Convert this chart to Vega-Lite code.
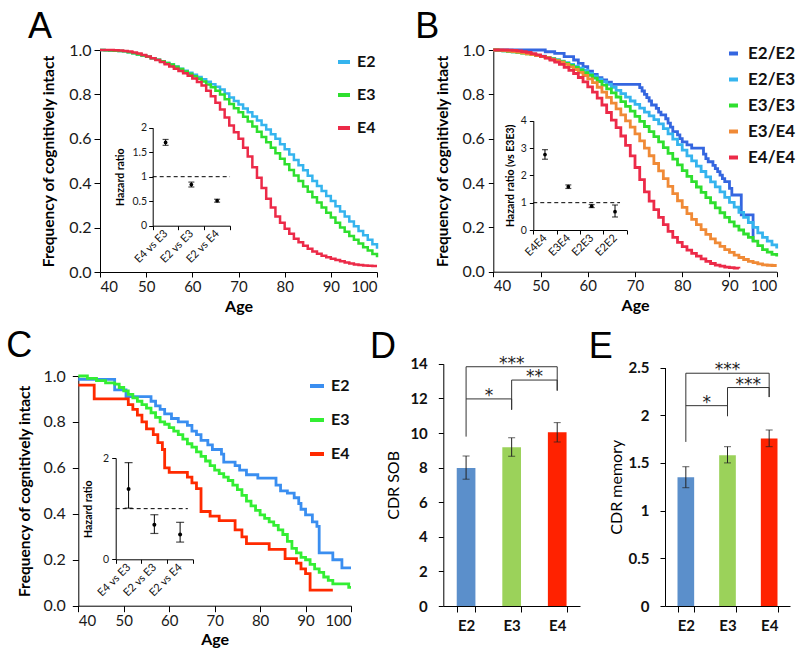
{
"$schema": "https://vega.github.io/schema/vega-lite/v6.json",
"width": 800, "height": 656,
"autosize": {"type": "none"},
"padding": 0,
"background": "white",
"config": {
  "view": {"stroke": null},
  "font": "Lato",
  "axis": {"grid": false, "domainColor": "#000", "tickColor": "#000", "labelColor": "#1a1a1a", "titleColor": "#000", "labelFont": "Lato", "titleFont": "Lato"},
  "text": {"font": "Lato"}
},
"datasets": {
"survA": [
{"age":40,"s":1.0,"g":"E2"},{"age":41,"s":0.999,"g":"E2"},{"age":42,"s":0.998,"g":"E2"},{"age":43,"s":0.997,"g":"E2"},{"age":44,"s":0.996,"g":"E2"},{"age":45,"s":0.994,"g":"E2"},{"age":46,"s":0.99,"g":"E2"},{"age":47,"s":0.985,"g":"E2"},{"age":48,"s":0.98,"g":"E2"},{"age":49,"s":0.975,"g":"E2"},
{"age":50,"s":0.97,"g":"E2"},{"age":51,"s":0.963,"g":"E2"},{"age":52,"s":0.956,"g":"E2"},{"age":53,"s":0.949,"g":"E2"},{"age":54,"s":0.942,"g":"E2"},{"age":55,"s":0.935,"g":"E2"},{"age":56,"s":0.926,"g":"E2"},{"age":57,"s":0.916,"g":"E2"},{"age":58,"s":0.907,"g":"E2"},{"age":59,"s":0.897,"g":"E2"},
{"age":60,"s":0.888,"g":"E2"},{"age":61,"s":0.878,"g":"E2"},{"age":62,"s":0.868,"g":"E2"},{"age":63,"s":0.857,"g":"E2"},{"age":64,"s":0.846,"g":"E2"},{"age":65,"s":0.834,"g":"E2"},{"age":66,"s":0.822,"g":"E2"},{"age":67,"s":0.804,"g":"E2"},{"age":68,"s":0.786,"g":"E2"},{"age":69,"s":0.77,"g":"E2"},
{"age":70,"s":0.755,"g":"E2"},{"age":71,"s":0.737,"g":"E2"},{"age":72,"s":0.72,"g":"E2"},{"age":73,"s":0.701,"g":"E2"},{"age":74,"s":0.682,"g":"E2"},{"age":75,"s":0.662,"g":"E2"},{"age":76,"s":0.642,"g":"E2"},{"age":77,"s":0.621,"g":"E2"},{"age":78,"s":0.6,"g":"E2"},{"age":79,"s":0.576,"g":"E2"},
{"age":80,"s":0.553,"g":"E2"},{"age":81,"s":0.529,"g":"E2"},{"age":82,"s":0.505,"g":"E2"},{"age":83,"s":0.481,"g":"E2"},{"age":84,"s":0.458,"g":"E2"},{"age":85,"s":0.434,"g":"E2"},{"age":86,"s":0.41,"g":"E2"},{"age":87,"s":0.387,"g":"E2"},{"age":88,"s":0.365,"g":"E2"},{"age":89,"s":0.342,"g":"E2"},
{"age":90,"s":0.32,"g":"E2"},{"age":91,"s":0.296,"g":"E2"},{"age":92,"s":0.272,"g":"E2"},{"age":93,"s":0.25,"g":"E2"},{"age":94,"s":0.228,"g":"E2"},{"age":95,"s":0.206,"g":"E2"},{"age":96,"s":0.185,"g":"E2"},{"age":97,"s":0.165,"g":"E2"},{"age":98,"s":0.145,"g":"E2"},{"age":99,"s":0.125,"g":"E2"},{"age":100,"s":0.105,"g":"E2"},
{"age":40,"s":1.0,"g":"E3"},{"age":41,"s":0.999,"g":"E3"},{"age":42,"s":0.998,"g":"E3"},{"age":43,"s":0.997,"g":"E3"},{"age":44,"s":0.996,"g":"E3"},{"age":45,"s":0.994,"g":"E3"},{"age":46,"s":0.99,"g":"E3"},{"age":47,"s":0.985,"g":"E3"},{"age":48,"s":0.98,"g":"E3"},{"age":49,"s":0.975,"g":"E3"},
{"age":50,"s":0.97,"g":"E3"},{"age":51,"s":0.963,"g":"E3"},{"age":52,"s":0.956,"g":"E3"},{"age":53,"s":0.949,"g":"E3"},{"age":54,"s":0.942,"g":"E3"},{"age":55,"s":0.935,"g":"E3"},{"age":56,"s":0.925,"g":"E3"},{"age":57,"s":0.914,"g":"E3"},{"age":58,"s":0.903,"g":"E3"},{"age":59,"s":0.893,"g":"E3"},
{"age":60,"s":0.882,"g":"E3"},{"age":61,"s":0.87,"g":"E3"},{"age":62,"s":0.858,"g":"E3"},{"age":63,"s":0.845,"g":"E3"},{"age":64,"s":0.832,"g":"E3"},{"age":65,"s":0.816,"g":"E3"},{"age":66,"s":0.8,"g":"E3"},{"age":67,"s":0.778,"g":"E3"},{"age":68,"s":0.757,"g":"E3"},{"age":69,"s":0.738,"g":"E3"},
{"age":70,"s":0.72,"g":"E3"},{"age":71,"s":0.699,"g":"E3"},{"age":72,"s":0.678,"g":"E3"},{"age":73,"s":0.655,"g":"E3"},{"age":74,"s":0.632,"g":"E3"},{"age":75,"s":0.608,"g":"E3"},{"age":76,"s":0.585,"g":"E3"},{"age":77,"s":0.56,"g":"E3"},{"age":78,"s":0.535,"g":"E3"},{"age":79,"s":0.51,"g":"E3"},
{"age":80,"s":0.485,"g":"E3"},{"age":81,"s":0.46,"g":"E3"},{"age":82,"s":0.435,"g":"E3"},{"age":83,"s":0.41,"g":"E3"},{"age":84,"s":0.385,"g":"E3"},{"age":85,"s":0.361,"g":"E3"},{"age":86,"s":0.337,"g":"E3"},{"age":87,"s":0.313,"g":"E3"},{"age":88,"s":0.29,"g":"E3"},{"age":89,"s":0.267,"g":"E3"},
{"age":90,"s":0.245,"g":"E3"},{"age":91,"s":0.222,"g":"E3"},{"age":92,"s":0.2,"g":"E3"},{"age":93,"s":0.181,"g":"E3"},{"age":94,"s":0.162,"g":"E3"},{"age":95,"s":0.145,"g":"E3"},{"age":96,"s":0.128,"g":"E3"},{"age":97,"s":0.112,"g":"E3"},{"age":98,"s":0.097,"g":"E3"},{"age":99,"s":0.081,"g":"E3"},{"age":100,"s":0.066,"g":"E3"},
{"age":40,"s":1.0,"g":"E4"},{"age":41,"s":1.0,"g":"E4"},{"age":42,"s":1.0,"g":"E4"},{"age":43,"s":0.999,"g":"E4"},{"age":44,"s":0.998,"g":"E4"},{"age":45,"s":0.996,"g":"E4"},{"age":46,"s":0.993,"g":"E4"},{"age":47,"s":0.989,"g":"E4"},{"age":48,"s":0.984,"g":"E4"},{"age":49,"s":0.978,"g":"E4"},
{"age":50,"s":0.971,"g":"E4"},{"age":51,"s":0.963,"g":"E4"},{"age":52,"s":0.955,"g":"E4"},{"age":53,"s":0.946,"g":"E4"},{"age":54,"s":0.936,"g":"E4"},{"age":55,"s":0.926,"g":"E4"},{"age":56,"s":0.915,"g":"E4"},{"age":57,"s":0.905,"g":"E4"},{"age":58,"s":0.895,"g":"E4"},{"age":59,"s":0.884,"g":"E4"},
{"age":60,"s":0.872,"g":"E4"},{"age":61,"s":0.856,"g":"E4"},{"age":62,"s":0.84,"g":"E4"},{"age":63,"s":0.816,"g":"E4"},{"age":64,"s":0.792,"g":"E4"},{"age":65,"s":0.762,"g":"E4"},{"age":66,"s":0.732,"g":"E4"},{"age":67,"s":0.696,"g":"E4"},{"age":68,"s":0.66,"g":"E4"},{"age":69,"s":0.63,"g":"E4"},
{"age":70,"s":0.6,"g":"E4"},{"age":71,"s":0.56,"g":"E4"},{"age":72,"s":0.52,"g":"E4"},{"age":73,"s":0.472,"g":"E4"},{"age":74,"s":0.425,"g":"E4"},{"age":75,"s":0.378,"g":"E4"},{"age":76,"s":0.33,"g":"E4"},{"age":77,"s":0.29,"g":"E4"},{"age":78,"s":0.25,"g":"E4"},{"age":79,"s":0.222,"g":"E4"},
{"age":80,"s":0.195,"g":"E4"},{"age":81,"s":0.172,"g":"E4"},{"age":82,"s":0.15,"g":"E4"},{"age":83,"s":0.134,"g":"E4"},{"age":84,"s":0.118,"g":"E4"},{"age":85,"s":0.105,"g":"E4"},{"age":86,"s":0.092,"g":"E4"},{"age":87,"s":0.082,"g":"E4"},{"age":88,"s":0.073,"g":"E4"},{"age":89,"s":0.066,"g":"E4"},
{"age":90,"s":0.06,"g":"E4"},{"age":91,"s":0.054,"g":"E4"},{"age":92,"s":0.048,"g":"E4"},{"age":93,"s":0.043,"g":"E4"},{"age":94,"s":0.038,"g":"E4"},{"age":95,"s":0.034,"g":"E4"},{"age":96,"s":0.031,"g":"E4"},{"age":97,"s":0.029,"g":"E4"},{"age":98,"s":0.028,"g":"E4"},{"age":99,"s":0.027,"g":"E4"},{"age":100,"s":0.027,"g":"E4"}
],
"survB": [
{"age":40,"s":1.0,"g":"E2/E2"},{"age":51,"s":0.992,"g":"E2/E2"},{"age":53,"s":0.985,"g":"E2/E2"},{"age":55,"s":0.97,"g":"E2/E2"},{"age":57,"s":0.955,"g":"E2/E2"},{"age":58,"s":0.94,"g":"E2/E2"},{"age":59,"s":0.925,"g":"E2/E2"},{"age":60,"s":0.905,"g":"E2/E2"},{"age":61,"s":0.89,"g":"E2/E2"},{"age":62,"s":0.875,"g":"E2/E2"},{"age":63,"s":0.865,"g":"E2/E2"},{"age":64,"s":0.855,"g":"E2/E2"},{"age":65,"s":0.845,"g":"E2/E2"},{"age":71,"s":0.83,"g":"E2/E2"},{"age":71.5,"s":0.815,"g":"E2/E2"},{"age":72,"s":0.8,"g":"E2/E2"},{"age":72.5,"s":0.785,"g":"E2/E2"},{"age":73,"s":0.77,"g":"E2/E2"},{"age":73.5,"s":0.752,"g":"E2/E2"},{"age":74.5,"s":0.737,"g":"E2/E2"},{"age":75,"s":0.72,"g":"E2/E2"},{"age":75.5,"s":0.707,"g":"E2/E2"},{"age":76.5,"s":0.69,"g":"E2/E2"},{"age":77,"s":0.67,"g":"E2/E2"},{"age":77.5,"s":0.652,"g":"E2/E2"},{"age":78,"s":0.632,"g":"E2/E2"},{"age":79,"s":0.617,"g":"E2/E2"},{"age":79.5,"s":0.6,"g":"E2/E2"},{"age":80,"s":0.586,"g":"E2/E2"},{"age":81,"s":0.572,"g":"E2/E2"},{"age":82,"s":0.557,"g":"E2/E2"},{"age":84.5,"s":0.53,"g":"E2/E2"},{"age":85,"s":0.51,"g":"E2/E2"},{"age":85.5,"s":0.496,"g":"E2/E2"},{"age":86.5,"s":0.48,"g":"E2/E2"},{"age":87,"s":0.465,"g":"E2/E2"},{"age":87.5,"s":0.451,"g":"E2/E2"},{"age":88,"s":0.436,"g":"E2/E2"},{"age":88.5,"s":0.42,"g":"E2/E2"},{"age":89,"s":0.406,"g":"E2/E2"},{"age":90,"s":0.376,"g":"E2/E2"},{"age":90.5,"s":0.346,"g":"E2/E2"},{"age":92.5,"s":0.256,"g":"E2/E2"},{"age":95,"s":0.135,"g":"E2/E2"},
{"age":40,"s":1.0,"g":"E2/E3"},{"age":41,"s":0.998,"g":"E2/E3"},{"age":42,"s":0.996,"g":"E2/E3"},{"age":43,"s":0.994,"g":"E2/E3"},{"age":44,"s":0.992,"g":"E2/E3"},{"age":45,"s":0.99,"g":"E2/E3"},{"age":46,"s":0.987,"g":"E2/E3"},{"age":47,"s":0.984,"g":"E2/E3"},{"age":48,"s":0.98,"g":"E2/E3"},{"age":49,"s":0.976,"g":"E2/E3"},
{"age":50,"s":0.972,"g":"E2/E3"},{"age":51,"s":0.967,"g":"E2/E3"},{"age":52,"s":0.962,"g":"E2/E3"},{"age":53,"s":0.956,"g":"E2/E3"},{"age":54,"s":0.95,"g":"E2/E3"},{"age":55,"s":0.943,"g":"E2/E3"},{"age":56,"s":0.935,"g":"E2/E3"},{"age":57,"s":0.927,"g":"E2/E3"},{"age":58,"s":0.918,"g":"E2/E3"},{"age":59,"s":0.909,"g":"E2/E3"},
{"age":60,"s":0.895,"g":"E2/E3"},{"age":61,"s":0.882,"g":"E2/E3"},{"age":62,"s":0.869,"g":"E2/E3"},{"age":63,"s":0.857,"g":"E2/E3"},{"age":64,"s":0.845,"g":"E2/E3"},{"age":65,"s":0.832,"g":"E2/E3"},{"age":66,"s":0.818,"g":"E2/E3"},{"age":67,"s":0.803,"g":"E2/E3"},{"age":68,"s":0.787,"g":"E2/E3"},{"age":69,"s":0.77,"g":"E2/E3"},
{"age":70,"s":0.755,"g":"E2/E3"},{"age":71,"s":0.738,"g":"E2/E3"},{"age":72,"s":0.72,"g":"E2/E3"},{"age":73,"s":0.703,"g":"E2/E3"},{"age":74,"s":0.686,"g":"E2/E3"},{"age":75,"s":0.667,"g":"E2/E3"},{"age":76,"s":0.645,"g":"E2/E3"},{"age":77,"s":0.622,"g":"E2/E3"},{"age":78,"s":0.598,"g":"E2/E3"},{"age":79,"s":0.573,"g":"E2/E3"},
{"age":80,"s":0.548,"g":"E2/E3"},{"age":81,"s":0.522,"g":"E2/E3"},{"age":82,"s":0.5,"g":"E2/E3"},{"age":83,"s":0.476,"g":"E2/E3"},{"age":84,"s":0.452,"g":"E2/E3"},{"age":85,"s":0.428,"g":"E2/E3"},{"age":86,"s":0.405,"g":"E2/E3"},{"age":87,"s":0.383,"g":"E2/E3"},{"age":88,"s":0.36,"g":"E2/E3"},{"age":89,"s":0.335,"g":"E2/E3"},
{"age":90,"s":0.313,"g":"E2/E3"},{"age":91,"s":0.291,"g":"E2/E3"},{"age":92,"s":0.268,"g":"E2/E3"},{"age":93,"s":0.245,"g":"E2/E3"},{"age":94,"s":0.222,"g":"E2/E3"},{"age":95,"s":0.2,"g":"E2/E3"},{"age":96,"s":0.175,"g":"E2/E3"},{"age":97,"s":0.155,"g":"E2/E3"},{"age":98,"s":0.138,"g":"E2/E3"},{"age":99,"s":0.121,"g":"E2/E3"},{"age":100,"s":0.105,"g":"E2/E3"},
{"age":40,"s":1.0,"g":"E3/E3"},{"age":41,"s":0.998,"g":"E3/E3"},{"age":42,"s":0.996,"g":"E3/E3"},{"age":43,"s":0.994,"g":"E3/E3"},{"age":44,"s":0.992,"g":"E3/E3"},{"age":45,"s":0.989,"g":"E3/E3"},{"age":46,"s":0.986,"g":"E3/E3"},{"age":47,"s":0.983,"g":"E3/E3"},{"age":48,"s":0.979,"g":"E3/E3"},{"age":49,"s":0.975,"g":"E3/E3"},
{"age":50,"s":0.971,"g":"E3/E3"},{"age":51,"s":0.966,"g":"E3/E3"},{"age":52,"s":0.96,"g":"E3/E3"},{"age":53,"s":0.954,"g":"E3/E3"},{"age":54,"s":0.947,"g":"E3/E3"},{"age":55,"s":0.94,"g":"E3/E3"},{"age":56,"s":0.931,"g":"E3/E3"},{"age":57,"s":0.921,"g":"E3/E3"},{"age":58,"s":0.91,"g":"E3/E3"},{"age":59,"s":0.898,"g":"E3/E3"},
{"age":60,"s":0.886,"g":"E3/E3"},{"age":61,"s":0.873,"g":"E3/E3"},{"age":62,"s":0.858,"g":"E3/E3"},{"age":63,"s":0.842,"g":"E3/E3"},{"age":64,"s":0.825,"g":"E3/E3"},{"age":65,"s":0.807,"g":"E3/E3"},{"age":66,"s":0.788,"g":"E3/E3"},{"age":67,"s":0.767,"g":"E3/E3"},{"age":68,"s":0.746,"g":"E3/E3"},{"age":69,"s":0.724,"g":"E3/E3"},
{"age":70,"s":0.701,"g":"E3/E3"},{"age":71,"s":0.678,"g":"E3/E3"},{"age":72,"s":0.655,"g":"E3/E3"},{"age":73,"s":0.632,"g":"E3/E3"},{"age":74,"s":0.609,"g":"E3/E3"},{"age":75,"s":0.586,"g":"E3/E3"},{"age":76,"s":0.56,"g":"E3/E3"},{"age":77,"s":0.534,"g":"E3/E3"},{"age":78,"s":0.508,"g":"E3/E3"},{"age":79,"s":0.482,"g":"E3/E3"},
{"age":80,"s":0.456,"g":"E3/E3"},{"age":81,"s":0.43,"g":"E3/E3"},{"age":82,"s":0.406,"g":"E3/E3"},{"age":83,"s":0.382,"g":"E3/E3"},{"age":84,"s":0.358,"g":"E3/E3"},{"age":85,"s":0.334,"g":"E3/E3"},{"age":86,"s":0.311,"g":"E3/E3"},{"age":87,"s":0.288,"g":"E3/E3"},{"age":88,"s":0.266,"g":"E3/E3"},{"age":89,"s":0.245,"g":"E3/E3"},
{"age":90,"s":0.225,"g":"E3/E3"},{"age":91,"s":0.206,"g":"E3/E3"},{"age":92,"s":0.188,"g":"E3/E3"},{"age":93,"s":0.17,"g":"E3/E3"},{"age":94,"s":0.155,"g":"E3/E3"},{"age":95,"s":0.138,"g":"E3/E3"},{"age":96,"s":0.118,"g":"E3/E3"},{"age":97,"s":0.1,"g":"E3/E3"},{"age":98,"s":0.088,"g":"E3/E3"},{"age":99,"s":0.078,"g":"E3/E3"},{"age":100,"s":0.068,"g":"E3/E3"},
{"age":40,"s":1.0,"g":"E3/E4"},{"age":41,"s":0.999,"g":"E3/E4"},{"age":42,"s":0.997,"g":"E3/E4"},{"age":43,"s":0.995,"g":"E3/E4"},{"age":44,"s":0.993,"g":"E3/E4"},{"age":45,"s":0.99,"g":"E3/E4"},{"age":46,"s":0.987,"g":"E3/E4"},{"age":47,"s":0.983,"g":"E3/E4"},{"age":48,"s":0.979,"g":"E3/E4"},{"age":49,"s":0.975,"g":"E3/E4"},
{"age":50,"s":0.97,"g":"E3/E4"},{"age":51,"s":0.965,"g":"E3/E4"},{"age":52,"s":0.959,"g":"E3/E4"},{"age":53,"s":0.952,"g":"E3/E4"},{"age":54,"s":0.945,"g":"E3/E4"},{"age":55,"s":0.935,"g":"E3/E4"},{"age":56,"s":0.924,"g":"E3/E4"},{"age":57,"s":0.912,"g":"E3/E4"},{"age":58,"s":0.899,"g":"E3/E4"},{"age":59,"s":0.885,"g":"E3/E4"},
{"age":60,"s":0.87,"g":"E3/E4"},{"age":61,"s":0.853,"g":"E3/E4"},{"age":62,"s":0.832,"g":"E3/E4"},{"age":63,"s":0.81,"g":"E3/E4"},{"age":64,"s":0.786,"g":"E3/E4"},{"age":65,"s":0.76,"g":"E3/E4"},{"age":66,"s":0.734,"g":"E3/E4"},{"age":67,"s":0.707,"g":"E3/E4"},{"age":68,"s":0.68,"g":"E3/E4"},{"age":69,"s":0.652,"g":"E3/E4"},
{"age":70,"s":0.622,"g":"E3/E4"},{"age":71,"s":0.59,"g":"E3/E4"},{"age":72,"s":0.557,"g":"E3/E4"},{"age":73,"s":0.523,"g":"E3/E4"},{"age":74,"s":0.488,"g":"E3/E4"},{"age":75,"s":0.455,"g":"E3/E4"},{"age":76,"s":0.42,"g":"E3/E4"},{"age":77,"s":0.385,"g":"E3/E4"},{"age":78,"s":0.352,"g":"E3/E4"},{"age":79,"s":0.32,"g":"E3/E4"},
{"age":80,"s":0.29,"g":"E3/E4"},{"age":81,"s":0.262,"g":"E3/E4"},{"age":82,"s":0.236,"g":"E3/E4"},{"age":83,"s":0.212,"g":"E3/E4"},{"age":84,"s":0.19,"g":"E3/E4"},{"age":85,"s":0.168,"g":"E3/E4"},{"age":86,"s":0.148,"g":"E3/E4"},{"age":87,"s":0.13,"g":"E3/E4"},{"age":88,"s":0.114,"g":"E3/E4"},{"age":89,"s":0.1,"g":"E3/E4"},
{"age":90,"s":0.087,"g":"E3/E4"},{"age":91,"s":0.075,"g":"E3/E4"},{"age":92,"s":0.064,"g":"E3/E4"},{"age":93,"s":0.055,"g":"E3/E4"},{"age":94,"s":0.047,"g":"E3/E4"},{"age":95,"s":0.041,"g":"E3/E4"},{"age":96,"s":0.035,"g":"E3/E4"},{"age":97,"s":0.031,"g":"E3/E4"},{"age":98,"s":0.029,"g":"E3/E4"},{"age":99,"s":0.028,"g":"E3/E4"},{"age":100,"s":0.028,"g":"E3/E4"},
{"age":40,"s":1.0,"g":"E4/E4"},{"age":41,"s":1.0,"g":"E4/E4"},{"age":42,"s":1.0,"g":"E4/E4"},{"age":43,"s":0.999,"g":"E4/E4"},{"age":44,"s":0.998,"g":"E4/E4"},{"age":45,"s":0.996,"g":"E4/E4"},{"age":46,"s":0.993,"g":"E4/E4"},{"age":47,"s":0.989,"g":"E4/E4"},{"age":48,"s":0.984,"g":"E4/E4"},{"age":49,"s":0.978,"g":"E4/E4"},
{"age":50,"s":0.971,"g":"E4/E4"},{"age":51,"s":0.963,"g":"E4/E4"},{"age":52,"s":0.955,"g":"E4/E4"},{"age":53,"s":0.945,"g":"E4/E4"},{"age":54,"s":0.935,"g":"E4/E4"},{"age":55,"s":0.922,"g":"E4/E4"},{"age":56,"s":0.908,"g":"E4/E4"},{"age":57,"s":0.894,"g":"E4/E4"},{"age":58,"s":0.876,"g":"E4/E4"},{"age":59,"s":0.856,"g":"E4/E4"},
{"age":60,"s":0.834,"g":"E4/E4"},{"age":61,"s":0.81,"g":"E4/E4"},{"age":62,"s":0.783,"g":"E4/E4"},{"age":63,"s":0.752,"g":"E4/E4"},{"age":64,"s":0.718,"g":"E4/E4"},{"age":65,"s":0.684,"g":"E4/E4"},{"age":66,"s":0.65,"g":"E4/E4"},{"age":67,"s":0.612,"g":"E4/E4"},{"age":68,"s":0.57,"g":"E4/E4"},{"age":69,"s":0.522,"g":"E4/E4"},
{"age":70,"s":0.47,"g":"E4/E4"},{"age":71,"s":0.415,"g":"E4/E4"},{"age":72,"s":0.36,"g":"E4/E4"},{"age":73,"s":0.318,"g":"E4/E4"},{"age":74,"s":0.28,"g":"E4/E4"},{"age":75,"s":0.245,"g":"E4/E4"},{"age":76,"s":0.212,"g":"E4/E4"},{"age":77,"s":0.182,"g":"E4/E4"},{"age":78,"s":0.155,"g":"E4/E4"},{"age":79,"s":0.132,"g":"E4/E4"},
{"age":80,"s":0.113,"g":"E4/E4"},{"age":81,"s":0.097,"g":"E4/E4"},{"age":82,"s":0.083,"g":"E4/E4"},{"age":83,"s":0.07,"g":"E4/E4"},{"age":84,"s":0.058,"g":"E4/E4"},{"age":85,"s":0.047,"g":"E4/E4"},{"age":86,"s":0.037,"g":"E4/E4"},{"age":87,"s":0.03,"g":"E4/E4"},{"age":88,"s":0.025,"g":"E4/E4"},{"age":89,"s":0.021,"g":"E4/E4"},
{"age":90,"s":0.018,"g":"E4/E4"},{"age":91,"s":0.016,"g":"E4/E4"},{"age":92,"s":0.015,"g":"E4/E4"}
],
"survC": [
{"age":40,"s":0.985,"g":"E2"},{"age":48,"s":0.94,"g":"E2"},{"age":50.5,"s":0.91,"g":"E2"},{"age":56,"s":0.89,"g":"E2"},{"age":57,"s":0.87,"g":"E2"},{"age":58,"s":0.855,"g":"E2"},{"age":59,"s":0.835,"g":"E2"},{"age":60.5,"s":0.815,"g":"E2"},{"age":62,"s":0.8,"g":"E2"},{"age":64,"s":0.785,"g":"E2"},{"age":65,"s":0.76,"g":"E2"},{"age":66,"s":0.745,"g":"E2"},{"age":67,"s":0.72,"g":"E2"},{"age":68.5,"s":0.7,"g":"E2"},{"age":69.5,"s":0.68,"g":"E2"},{"age":71.5,"s":0.66,"g":"E2"},{"age":72,"s":0.625,"g":"E2"},{"age":74.5,"s":0.61,"g":"E2"},{"age":75.5,"s":0.59,"g":"E2"},{"age":77,"s":0.57,"g":"E2"},{"age":79.5,"s":0.555,"g":"E2"},{"age":83.5,"s":0.525,"g":"E2"},{"age":84.5,"s":0.5,"g":"E2"},{"age":86,"s":0.49,"g":"E2"},{"age":87.5,"s":0.47,"g":"E2"},{"age":88.5,"s":0.445,"g":"E2"},{"age":89,"s":0.42,"g":"E2"},{"age":90,"s":0.395,"g":"E2"},{"age":91.5,"s":0.365,"g":"E2"},{"age":92.5,"s":0.345,"g":"E2"},{"age":93,"s":0.23,"g":"E2"},{"age":96,"s":0.2,"g":"E2"},{"age":98,"s":0.165,"g":"E2"},{"age":100,"s":0.165,"g":"E2"},
{"age":40,"s":1.0,"g":"E3"},{"age":42,"s":0.99,"g":"E3"},{"age":44,"s":0.98,"g":"E3"},{"age":46,"s":0.97,"g":"E3"},{"age":48,"s":0.965,"g":"E3"},{"age":49,"s":0.95,"g":"E3"},{"age":50,"s":0.935,"g":"E3"},{"age":51,"s":0.92,"g":"E3"},{"age":52,"s":0.905,"g":"E3"},{"age":53,"s":0.89,"g":"E3"},{"age":54,"s":0.875,"g":"E3"},{"age":55,"s":0.86,"g":"E3"},{"age":56,"s":0.84,"g":"E3"},{"age":57,"s":0.82,"g":"E3"},{"age":58,"s":0.8,"g":"E3"},{"age":59,"s":0.79,"g":"E3"},{"age":60,"s":0.775,"g":"E3"},{"age":61,"s":0.76,"g":"E3"},{"age":62,"s":0.745,"g":"E3"},{"age":63,"s":0.725,"g":"E3"},{"age":64,"s":0.705,"g":"E3"},{"age":65,"s":0.69,"g":"E3"},{"age":66,"s":0.67,"g":"E3"},{"age":67,"s":0.65,"g":"E3"},{"age":68,"s":0.63,"g":"E3"},{"age":69,"s":0.61,"g":"E3"},{"age":70,"s":0.59,"g":"E3"},{"age":71,"s":0.575,"g":"E3"},{"age":72,"s":0.56,"g":"E3"},{"age":73,"s":0.545,"g":"E3"},{"age":74,"s":0.525,"g":"E3"},{"age":75,"s":0.505,"g":"E3"},{"age":76,"s":0.48,"g":"E3"},{"age":77,"s":0.455,"g":"E3"},{"age":78,"s":0.435,"g":"E3"},{"age":79,"s":0.415,"g":"E3"},{"age":80,"s":0.395,"g":"E3"},{"age":81,"s":0.38,"g":"E3"},{"age":82,"s":0.365,"g":"E3"},{"age":83,"s":0.35,"g":"E3"},{"age":84,"s":0.33,"g":"E3"},{"age":85,"s":0.31,"g":"E3"},{"age":86,"s":0.28,"g":"E3"},{"age":87,"s":0.25,"g":"E3"},{"age":88,"s":0.23,"g":"E3"},{"age":89,"s":0.21,"g":"E3"},{"age":90,"s":0.2,"g":"E3"},{"age":91,"s":0.18,"g":"E3"},{"age":92,"s":0.16,"g":"E3"},{"age":93,"s":0.145,"g":"E3"},{"age":94,"s":0.125,"g":"E3"},{"age":95,"s":0.11,"g":"E3"},{"age":96,"s":0.095,"g":"E3"},{"age":99.5,"s":0.08,"g":"E3"},{"age":100,"s":0.08,"g":"E3"},
{"age":40,"s":0.96,"g":"E4"},{"age":43.5,"s":0.9,"g":"E4"},{"age":51,"s":0.875,"g":"E4"},{"age":52,"s":0.855,"g":"E4"},{"age":53,"s":0.83,"g":"E4"},{"age":54,"s":0.8,"g":"E4"},{"age":55,"s":0.77,"g":"E4"},{"age":56.5,"s":0.745,"g":"E4"},{"age":57.5,"s":0.71,"g":"E4"},{"age":58.5,"s":0.68,"g":"E4"},{"age":59,"s":0.6,"g":"E4"},{"age":60,"s":0.58,"g":"E4"},{"age":64,"s":0.56,"g":"E4"},{"age":65,"s":0.535,"g":"E4"},{"age":66,"s":0.51,"g":"E4"},{"age":67,"s":0.41,"g":"E4"},{"age":69,"s":0.39,"g":"E4"},{"age":71,"s":0.37,"g":"E4"},{"age":74.5,"s":0.33,"g":"E4"},{"age":76,"s":0.3,"g":"E4"},{"age":77,"s":0.27,"g":"E4"},{"age":82,"s":0.245,"g":"E4"},{"age":85.5,"s":0.205,"g":"E4"},{"age":88,"s":0.185,"g":"E4"},{"age":89,"s":0.16,"g":"E4"},{"age":90,"s":0.14,"g":"E4"},{"age":91,"s":0.068,"g":"E4"},{"age":96,"s":0.068,"g":"E4"}
],
"hrA": [
{"cmp":"E4 vs E3","hr":1.70,"lo":1.64,"hi":1.76},
{"cmp":"E2 vs E3","hr":0.84,"lo":0.79,"hi":0.89},
{"cmp":"E2 vs E4","hr":0.51,"lo":0.48,"hi":0.54}
],
"hrB": [
{"cmp":"E4E4","hr":2.76,"lo":2.59,"hi":2.94},
{"cmp":"E3E4","hr":1.585,"lo":1.52,"hi":1.65},
{"cmp":"E2E3","hr":0.87,"lo":0.82,"hi":0.93},
{"cmp":"E2E2","hr":0.67,"lo":0.476,"hi":0.915}
],
"hrC": [
{"cmp":"E4 vs E3","hr":1.39,"lo":1.01,"hi":1.91},
{"cmp":"E2 vs E3","hr":0.68,"lo":0.51,"hi":0.88},
{"cmp":"E2 vs E4","hr":0.49,"lo":0.34,"hi":0.73}
],
"sob": [
{"geno":"E2","mean":7.98,"lo":7.33,"hi":8.67},
{"geno":"E3","mean":9.17,"lo":8.65,"hi":9.72},
{"geno":"E4","mean":10.04,"lo":9.48,"hi":10.6}
],
"mem": [
{"geno":"E2","mean":1.35,"lo":1.24,"hi":1.46},
{"geno":"E3","mean":1.58,"lo":1.5,"hi":1.67},
{"geno":"E4","mean":1.755,"lo":1.67,"hi":1.845}
],
"brD": [
{"from":"E2","to":"E4","top":13.83,"lbot":9.79,"rbot":12.45,"label":"***","span":2},
{"from":"E2","to":"E3","top":11.97,"lbot":11.97,"rbot":11.33,"label":"*","span":1},
{"from":"E3","to":"E4","top":13.06,"lbot":11.37,"rbot":12.45,"label":"**","span":1}
],
"brE": [
{"from":"E2","to":"E4","top":2.44,"lbot":1.72,"rbot":2.19,"label":"***","span":2},
{"from":"E2","to":"E3","top":2.10,"lbot":2.10,"rbot":1.99,"label":"*","span":1},
{"from":"E3","to":"E4","top":2.29,"lbot":1.99,"rbot":2.19,"label":"***","span":1}
]
},
"resolve": {"scale": {"x": "independent", "y": "independent", "color": "independent"}, "axis": {"x": "independent", "y": "independent"}, "legend": {"color": "independent"}},
"layer": [
{
 "data": {"name": "survA"},
 "layer": [
  {"mark": {"type": "line", "interpolate": "step-after", "strokeWidth": 2.5},
   "encoding": {
    "x": {"field": "age", "type": "quantitative", "scale": {"domain": [40, 100], "range": [100, 377], "nice": false, "zero": false},
      "axis": {"orient": "bottom", "offset": -384, "values": [40,50,60,70,80,90,100], "title": "Age", "titleFontSize": 16, "titleFontWeight": "bold", "titlePadding": 4, "labelFontSize": 15, "tickSize": 5, "labelPadding": 2}},
    "y": {"field": "s", "type": "quantitative", "scale": {"domain": [0, 1], "range": [272, 50], "nice": false},
      "axis": {"orient": "left", "offset": -100, "values": [0,0.2,0.4,0.6,0.8,1], "format": ".1f", "title": "Frequency of cognitively intact", "titleFontSize": 15.5, "titleFontWeight": "bold", "titlePadding": 12, "labelFontSize": 16, "tickSize": 6, "labelPadding": 3}},
    "color": {"field": "g", "type": "nominal", "scale": {"domain": ["E2","E3","E4"], "range": ["#35B4EE","#2EDF2E","#EC2A48"]},
      "legend": {"orient": "none", "legendX": 336, "legendY": 54, "title": null, "padding": 0, "symbolType": "stroke", "symbolSize": 144, "symbolStrokeWidth": 4, "labelFont": "Lato", "labelFontSize": 16, "labelFontWeight": "bold", "labelColor": "#111", "rowPadding": 17, "labelOffset": 5}}
   }},
  {"data": {"values": [{}]}, "mark": {"type": "text", "text": "A", "font": "Liberation Sans", "fontSize": 36, "align": "left", "baseline": "alphabetic", "dx": -72, "dy": -12, "color": "#000"},
   "encoding": {"x": {"datum": 40}, "y": {"datum": 1}}}
 ]
},
{
 "data": {"name": "hrA"},
 "layer": [
  {"mark": {"type": "rule", "color": "#000"},
   "encoding": {
    "x": {"field": "cmp", "type": "nominal", "scale": {"type": "band", "domain": ["E4 vs E3","E2 vs E3","E2 vs E4"], "range": [152.7, 230], "paddingInner": 0, "paddingOuter": 0},
      "axis": {"orient": "bottom", "offset": -430.3, "title": null, "labelAngle": -45, "labelAlign": "right", "labelBaseline": "middle", "labelFontSize": 11, "labelColor": "#111", "tickBand": "extent", "tickSize": 4, "labelPadding": 2}},
    "y": {"field": "lo", "type": "quantitative", "scale": {"domain": [0, 2], "range": [225.7, 127.7], "nice": false},
      "axis": {"orient": "left", "offset": -152.7, "values": [0,0.5,1,1.5,2], "format": "~g", "title": "Hazard ratio", "titleFontSize": 10.5, "titleFontWeight": "bold", "titlePadding": 7, "labelFontSize": 10.5, "tickSize": 4, "labelPadding": 2}},
    "y2": {"field": "hi"}
   }},
  {"mark": {"type": "tick", "color": "#000", "size": 6, "thickness": 1.2}, "encoding": {"x": {"field": "cmp", "type": "nominal"}, "y": {"field": "lo", "type": "quantitative"}}},
  {"mark": {"type": "tick", "color": "#000", "size": 6, "thickness": 1.2}, "encoding": {"x": {"field": "cmp", "type": "nominal"}, "y": {"field": "hi", "type": "quantitative"}}},
  {"mark": {"type": "point", "filled": true, "color": "#000", "size": 14, "opacity": 1}, "encoding": {"x": {"field": "cmp", "type": "nominal"}, "y": {"field": "hr", "type": "quantitative"}}},
  {"data": {"values": [{"from": "E4 vs E3", "to": "E2 vs E4", "ref": 1}]}, "mark": {"type": "rule", "color": "#000", "strokeDash": [4, 3], "xOffset": -12.9, "x2Offset": 12.9},
   "encoding": {"x": {"field": "from", "type": "nominal"}, "x2": {"field": "to"}, "y": {"field": "ref", "type": "quantitative"}}}
 ]
},
{
 "data": {"name": "survB"},
 "layer": [
  {"mark": {"type": "line", "interpolate": "step-after", "strokeWidth": 2.8},
   "encoding": {
    "x": {"field": "age", "type": "quantitative", "scale": {"domain": [40, 100], "range": [493.3, 776.7], "nice": false, "zero": false},
      "axis": {"orient": "bottom", "offset": -384.3, "values": [40,50,60,70,80,90,100], "title": "Age", "titleFontSize": 16, "titleFontWeight": "bold", "titlePadding": 4, "labelFontSize": 15, "tickSize": 5, "labelPadding": 2}},
    "y": {"field": "s", "type": "quantitative", "scale": {"domain": [0, 1], "range": [271.7, 50], "nice": false},
      "axis": {"orient": "left", "offset": -493.3, "values": [0,0.2,0.4,0.6,0.8,1], "format": ".1f", "title": "Frequency of cognitively intact", "titleFontSize": 15.5, "titleFontWeight": "bold", "titlePadding": 11, "labelFontSize": 16, "tickSize": 5, "labelPadding": 4}},
    "color": {"field": "g", "type": "nominal", "scale": {"domain": ["E2/E2","E2/E3","E3/E3","E3/E4","E4/E4"], "range": ["#3466E0","#35B4EE","#2EDF2E","#F08A36","#EC2A48"]},
      "legend": {"orient": "none", "legendX": 725, "legendY": 45, "title": null, "padding": 0, "symbolType": "stroke", "symbolSize": 81, "symbolStrokeWidth": 4, "labelFont": "Lato", "labelFontSize": 17, "labelFontWeight": "bold", "labelColor": "#111", "rowPadding": 8, "labelOffset": 6}}
   }},
  {"data": {"values": [{}]}, "mark": {"type": "text", "text": "B", "font": "Liberation Sans", "fontSize": 36, "align": "left", "baseline": "alphabetic", "dx": -78, "dy": -12, "color": "#000"},
   "encoding": {"x": {"datum": 40}, "y": {"datum": 1}}}
 ]
},
{
 "data": {"name": "hrB"},
 "layer": [
  {"mark": {"type": "rule", "color": "#000"},
   "encoding": {
    "x": {"field": "cmp", "type": "nominal", "scale": {"type": "band", "domain": ["E4E4","E3E4","E2E3","E2E2"], "range": [533.3, 626.7], "paddingInner": 0, "paddingOuter": 0},
      "axis": {"orient": "bottom", "offset": -426, "title": null, "labelAngle": -45, "labelAlign": "right", "labelBaseline": "middle", "labelFontSize": 11, "labelColor": "#111", "tickBand": "extent", "tickSize": 4, "labelPadding": 2}},
    "y": {"field": "lo", "type": "quantitative", "scale": {"domain": [0, 4], "range": [230, 120.7], "nice": false},
      "axis": {"orient": "left", "offset": -533.3, "values": [0,1,2,3,4], "format": "d", "title": "Hazard ratio (vs E3E3)", "titleFontSize": 10.5, "titleFontWeight": "bold", "titlePadding": 5, "labelFontSize": 10.5, "tickSize": 4, "labelPadding": 3}},
    "y2": {"field": "hi"}
   }},
  {"mark": {"type": "tick", "color": "#000", "size": 6, "thickness": 1.2}, "encoding": {"x": {"field": "cmp", "type": "nominal"}, "y": {"field": "lo", "type": "quantitative"}}},
  {"mark": {"type": "tick", "color": "#000", "size": 6, "thickness": 1.2}, "encoding": {"x": {"field": "cmp", "type": "nominal"}, "y": {"field": "hi", "type": "quantitative"}}},
  {"mark": {"type": "point", "filled": true, "color": "#000", "size": 14, "opacity": 1}, "encoding": {"x": {"field": "cmp", "type": "nominal"}, "y": {"field": "hr", "type": "quantitative"}}},
  {"data": {"values": [{"from": "E4E4", "to": "E2E2", "ref": 1}]}, "mark": {"type": "rule", "color": "#000", "strokeDash": [4, 3], "xOffset": -11.7, "x2Offset": 5},
   "encoding": {"x": {"field": "from", "type": "nominal"}, "x2": {"field": "to"}, "y": {"field": "ref", "type": "quantitative"}}}
 ]
},
{
 "data": {"name": "survC"},
 "layer": [
  {"mark": {"type": "line", "interpolate": "step-after", "strokeWidth": 2.8},
   "encoding": {
    "x": {"field": "age", "type": "quantitative", "scale": {"domain": [40, 100], "range": [78.3, 351], "nice": false, "zero": false},
      "axis": {"orient": "bottom", "offset": -50.3, "values": [40,50,60,70,80,90,100], "title": "Age", "titleFontSize": 16, "titleFontWeight": "bold", "titlePadding": 3, "labelFontSize": 15, "tickSize": 6, "labelPadding": 2}},
    "y": {"field": "s", "type": "quantitative", "scale": {"domain": [0, 1], "range": [605.7, 376], "nice": false},
      "axis": {"orient": "left", "offset": -78.3, "values": [0,0.2,0.4,0.6,0.8,1], "format": ".1f", "title": "Frequency of cognitively intact", "titleFontSize": 15.5, "titleFontWeight": "bold", "titlePadding": 10, "labelFontSize": 16, "tickSize": 6, "labelPadding": 7}},
    "color": {"field": "g", "type": "nominal", "scale": {"domain": ["E2","E3","E4"], "range": ["#3A8EF0","#33EE33","#FF2A00"]},
      "legend": {"orient": "none", "legendX": 308, "legendY": 377, "title": null, "padding": 0, "symbolType": "stroke", "symbolSize": 196, "symbolStrokeWidth": 4, "labelFont": "Lato", "labelFontSize": 16, "labelFontWeight": "bold", "labelColor": "#111", "rowPadding": 17, "labelOffset": 5}}
   }},
  {"data": {"values": [{}]}, "mark": {"type": "text", "text": "C", "font": "Liberation Sans", "fontSize": 36, "align": "left", "baseline": "alphabetic", "dx": -72, "dy": -19, "color": "#000"},
   "encoding": {"x": {"datum": 40}, "y": {"datum": 1}}}
 ]
},
{
 "data": {"name": "hrC"},
 "layer": [
  {"mark": {"type": "rule", "color": "#000"},
   "encoding": {
    "x": {"field": "cmp", "type": "nominal", "scale": {"type": "band", "domain": ["E4 vs E3","E2 vs E3","E2 vs E4"], "range": [115.7, 193], "paddingInner": 0, "paddingOuter": 0},
      "axis": {"orient": "bottom", "offset": -96.7, "title": null, "labelAngle": -45, "labelAlign": "right", "labelBaseline": "middle", "labelFontSize": 11, "labelColor": "#111", "tickBand": "extent", "tickSize": 4, "labelPadding": 2}},
    "y": {"field": "lo", "type": "quantitative", "scale": {"domain": [0, 2], "range": [559.3, 458], "nice": false},
      "axis": {"orient": "left", "offset": -115.7, "values": [0,1,2], "format": "d", "title": "Hazard ratio", "titleFontSize": 10.5, "titleFontWeight": "bold", "titlePadding": 9, "labelFontSize": 10.5, "tickSize": 4, "labelPadding": 3}},
    "y2": {"field": "hi"}
   }},
  {"mark": {"type": "tick", "color": "#000", "size": 8, "thickness": 1.2}, "encoding": {"x": {"field": "cmp", "type": "nominal"}, "y": {"field": "lo", "type": "quantitative"}}},
  {"mark": {"type": "tick", "color": "#000", "size": 8, "thickness": 1.2}, "encoding": {"x": {"field": "cmp", "type": "nominal"}, "y": {"field": "hi", "type": "quantitative"}}},
  {"mark": {"type": "point", "filled": true, "color": "#000", "size": 16, "opacity": 1}, "encoding": {"x": {"field": "cmp", "type": "nominal"}, "y": {"field": "hr", "type": "quantitative"}}},
  {"data": {"values": [{"from": "E4 vs E3", "to": "E2 vs E4", "ref": 1}]}, "mark": {"type": "rule", "color": "#000", "strokeDash": [4, 3], "xOffset": -12.9, "x2Offset": 7.7},
   "encoding": {"x": {"field": "from", "type": "nominal"}, "x2": {"field": "to"}, "y": {"field": "ref", "type": "quantitative"}}}
 ]
},
{
 "data": {"name": "sob"},
 "layer": [
  {"mark": {"type": "bar"},
   "encoding": {
    "x": {"field": "geno", "type": "nominal", "scale": {"type": "band", "domain": ["E2","E3","E4"], "range": [443.3, 580], "paddingInner": 0.59, "paddingOuter": 0.295},
      "axis": {"orient": "bottom", "offset": -50, "title": null, "labelAngle": 0, "labelFontSize": 15, "labelFontWeight": "bold", "labelColor": "#111", "tickBand": "extent", "tickSize": 6, "labelPadding": 6}},
    "y": {"field": "mean", "type": "quantitative", "scale": {"domain": [0, 14], "range": [606, 363.8], "nice": false},
      "axis": {"orient": "left", "offset": -443.3, "values": [0,2,4,6,8,10,12,14], "format": "d", "title": "CDR SOB", "titleFontSize": 16, "titleFontWeight": "normal", "titlePadding": 8, "labelFontSize": 15, "labelFontWeight": "bold", "labelColor": "#111", "tickSize": 5, "labelPadding": 11}},
    "color": {"field": "geno", "type": "nominal", "scale": {"domain": ["E2","E3","E4"], "range": ["#5B8FCB","#9BD25A","#FF2200"]}, "legend": null}
   }},
  {"mark": {"type": "rule", "color": "#222"}, "encoding": {"x": {"field": "geno", "type": "nominal"}, "y": {"field": "lo", "type": "quantitative"}, "y2": {"field": "hi"}}},
  {"mark": {"type": "tick", "color": "#222", "size": 7, "thickness": 1}, "encoding": {"x": {"field": "geno", "type": "nominal"}, "y": {"field": "lo", "type": "quantitative"}}},
  {"mark": {"type": "tick", "color": "#222", "size": 7, "thickness": 1}, "encoding": {"x": {"field": "geno", "type": "nominal"}, "y": {"field": "hi", "type": "quantitative"}}},
  {"data": {"name": "brD"}, "mark": {"type": "rule", "color": "#333"}, "encoding": {"x": {"field": "from", "type": "nominal"}, "x2": {"field": "to"}, "y": {"field": "top", "type": "quantitative"}}},
  {"data": {"name": "brD"}, "mark": {"type": "rule", "color": "#333"}, "encoding": {"x": {"field": "from", "type": "nominal"}, "y": {"field": "top", "type": "quantitative"}, "y2": {"field": "lbot"}}},
  {"data": {"name": "brD"}, "mark": {"type": "rule", "color": "#333"}, "encoding": {"x": {"field": "to", "type": "nominal"}, "y": {"field": "top", "type": "quantitative"}, "y2": {"field": "rbot"}}},
  {"data": {"name": "brD"}, "transform": [{"filter": "datum.span == 1"}], "mark": {"type": "text", "font": "DejaVu Sans", "fontSize": 17, "dx": 22.8, "dy": 2, "align": "center", "baseline": "alphabetic", "color": "#222"},
   "encoding": {"x": {"field": "from", "type": "nominal"}, "y": {"field": "top", "type": "quantitative"}, "text": {"field": "label"}}},
  {"data": {"name": "brD"}, "transform": [{"filter": "datum.span == 2"}], "mark": {"type": "text", "font": "DejaVu Sans", "fontSize": 17, "dx": 45.6, "dy": 2, "align": "center", "baseline": "alphabetic", "color": "#222"},
   "encoding": {"x": {"field": "from", "type": "nominal"}, "y": {"field": "top", "type": "quantitative"}, "text": {"field": "label"}}},
  {"data": {"values": [{}]}, "mark": {"type": "text", "text": "D", "font": "Liberation Sans", "fontSize": 36, "align": "left", "baseline": "alphabetic", "dx": -96, "dy": -6, "color": "#000"},
   "encoding": {"x": {"datum": "E2", "type": "nominal"}, "y": {"datum": 14}}}
 ]
},
{
 "data": {"name": "mem"},
 "layer": [
  {"mark": {"type": "bar"},
   "encoding": {
    "x": {"field": "geno", "type": "nominal", "scale": {"type": "band", "domain": ["E2","E3","E4"], "range": [665, 790], "paddingInner": 0.6, "paddingOuter": 0.3},
      "axis": {"orient": "bottom", "offset": -50, "title": null, "labelAngle": 0, "labelFontSize": 15, "labelFontWeight": "bold", "labelColor": "#111", "tickBand": "extent", "tickSize": 6, "labelPadding": 6}},
    "y": {"field": "mean", "type": "quantitative", "scale": {"domain": [0, 2.5], "range": [606, 367.5], "nice": false},
      "axis": {"orient": "left", "offset": -665, "values": [0,0.5,1,1.5,2,2.5], "format": "~g", "title": "CDR memory", "titleFontSize": 16, "titleFontWeight": "normal", "titlePadding": 4, "labelFontSize": 15, "labelFontWeight": "bold", "labelColor": "#111", "tickSize": 5, "labelPadding": 11}},
    "color": {"field": "geno", "type": "nominal", "scale": {"domain": ["E2","E3","E4"], "range": ["#5B8FCB","#9BD25A","#FF2200"]}, "legend": null}
   }},
  {"mark": {"type": "rule", "color": "#222"}, "encoding": {"x": {"field": "geno", "type": "nominal"}, "y": {"field": "lo", "type": "quantitative"}, "y2": {"field": "hi"}}},
  {"mark": {"type": "tick", "color": "#222", "size": 7, "thickness": 1}, "encoding": {"x": {"field": "geno", "type": "nominal"}, "y": {"field": "lo", "type": "quantitative"}}},
  {"mark": {"type": "tick", "color": "#222", "size": 7, "thickness": 1}, "encoding": {"x": {"field": "geno", "type": "nominal"}, "y": {"field": "hi", "type": "quantitative"}}},
  {"data": {"name": "brE"}, "mark": {"type": "rule", "color": "#333"}, "encoding": {"x": {"field": "from", "type": "nominal"}, "x2": {"field": "to"}, "y": {"field": "top", "type": "quantitative"}}},
  {"data": {"name": "brE"}, "mark": {"type": "rule", "color": "#333"}, "encoding": {"x": {"field": "from", "type": "nominal"}, "y": {"field": "top", "type": "quantitative"}, "y2": {"field": "lbot"}}},
  {"data": {"name": "brE"}, "mark": {"type": "rule", "color": "#333"}, "encoding": {"x": {"field": "to", "type": "nominal"}, "y": {"field": "top", "type": "quantitative"}, "y2": {"field": "rbot"}}},
  {"data": {"name": "brE"}, "transform": [{"filter": "datum.span == 1"}], "mark": {"type": "text", "font": "DejaVu Sans", "fontSize": 17, "dx": 20.8, "dy": 2, "align": "center", "baseline": "alphabetic", "color": "#222"},
   "encoding": {"x": {"field": "from", "type": "nominal"}, "y": {"field": "top", "type": "quantitative"}, "text": {"field": "label"}}},
  {"data": {"name": "brE"}, "transform": [{"filter": "datum.span == 2"}], "mark": {"type": "text", "font": "DejaVu Sans", "fontSize": 17, "dx": 41.7, "dy": 2, "align": "center", "baseline": "alphabetic", "color": "#222"},
   "encoding": {"x": {"field": "from", "type": "nominal"}, "y": {"field": "top", "type": "quantitative"}, "text": {"field": "label"}}},
  {"data": {"values": [{}]}, "mark": {"type": "text", "text": "E", "font": "Liberation Sans", "fontSize": 36, "align": "left", "baseline": "alphabetic", "dx": -97, "dy": -9.5, "color": "#000"},
   "encoding": {"x": {"datum": "E2", "type": "nominal"}, "y": {"datum": 2.5}}}
 ]
}
]
}
